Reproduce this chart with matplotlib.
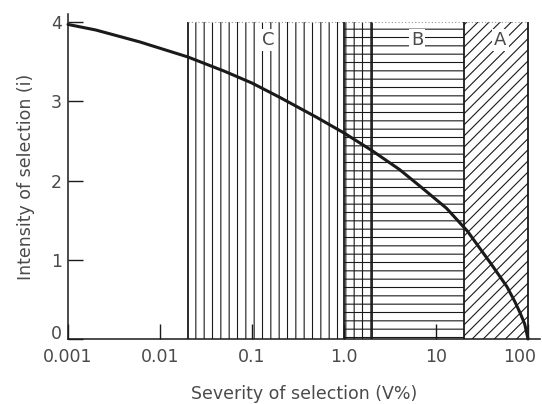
import matplotlib.pyplot as plt
import matplotlib.transforms as mtransforms
from matplotlib.patches import Rectangle

# values
severity = [0.001, 0.002, 0.006, 0.02, 0.05, 0.1, 0.2, 0.5, 1.0, 2.0, 4.0, 7.0,
            13, 22, 39, 59, 72, 82, 92, 100]
intensity = [3.97, 3.90, 3.75, 3.56, 3.38, 3.23, 3.05, 2.80, 2.60, 2.38, 2.14, 1.91,
             1.65, 1.36, 0.96, 0.66, 0.47, 0.33, 0.19, 0.0]

# shaded zones
zone_names = ["C", "B", "A"]
zone_lo = [0.02, 1.0, 20]
zone_hi = [2.0, 20, 100]
zone_hatch = ["||", "--", "///"]
zone_top = 4.0
zone_label_x = [0.15, 6.2, 50]
zone_label_y = 3.77

x_ticks = [0.001, 0.01, 0.1, 1.0, 10, 100]
x_tick_labels = ["0.001", "0.01", "0.1", "1.0", "10", "100"]
y_ticks = [0, 1, 2, 3, 4]

ink = "#1a1a1a"
text_grey = "#4a4a4a"

plt.rcParams["font.family"] = "DejaVu Sans"
plt.rcParams["hatch.linewidth"] = 0.8

fig = plt.figure(figsize=(5.42, 4.04), dpi=100)
ax = fig.add_axes([0.1255, 0.161, 0.8708, 0.804])
ax.set_xscale("log")

for lo, hi, hatch in zip(zone_lo, zone_hi, zone_hatch):
    ax.add_patch(Rectangle((lo, 0), hi - lo, zone_top, fill=False,
                           edgecolor=ink, linewidth=0, hatch=hatch))

# zone borders
edges = sorted(set(zone_lo + zone_hi))
ax.vlines(edges, 0, zone_top, color=ink, linewidth=1.3)
ax.hlines(zone_top, zone_lo[0], zone_hi[-1], color="#999999",
          linewidth=0.8, linestyle=(0, (1, 2)))

for name, lx in zip(zone_names, zone_label_x):
    ax.text(lx, zone_label_y, name, ha="center", va="center", fontsize=13,
            color=text_grey,
            bbox=dict(facecolor="white", edgecolor="none", pad=1.5))

ax.plot(severity, intensity, color=ink, linewidth=2.2, clip_on=False,
        solid_capstyle="round", solid_joinstyle="round", zorder=5)

ax.set_xlim(0.001, 135)
ax.set_ylim(0, 4.1)
ax.set_xticks(x_ticks)
ax.set_xticklabels(x_tick_labels)
ax.set_yticks(y_ticks)
ax.minorticks_off()

for side in ["top", "right"]:
    ax.spines[side].set_visible(False)
for side in ["left", "bottom"]:
    ax.spines[side].set_linewidth(1.1)
    ax.spines[side].set_color(ink)

ax.tick_params(axis="both", direction="in", length=11, width=1.0,
               color=ink, labelcolor=text_grey, labelsize=12.5)
ax.tick_params(axis="x", pad=6.5)
ax.tick_params(axis="y", pad=4.5)

# nudge end labels as in the printed figure
last_x = ax.get_xticklabels()[-1]
last_x.set_transform(last_x.get_transform()
                     + mtransforms.ScaledTranslation(-6 / 72, 0, fig.dpi_scale_trans))
first_y = ax.get_yticklabels()[0]
first_y.set_transform(first_y.get_transform()
                      + mtransforms.ScaledTranslation(0, 5 / 72, fig.dpi_scale_trans))

ax.set_xlabel("Severity of selection (V%)", fontsize=12.5,
              color=text_grey, labelpad=14)
ax.set_ylabel("Intensity of selection (i)", fontsize=12.5,
              color=text_grey, labelpad=11)

fig.savefig("out.png", dpi=100)
